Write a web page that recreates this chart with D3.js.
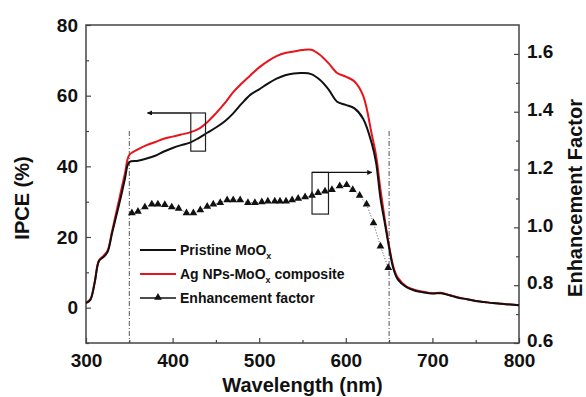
<!DOCTYPE html>
<html>
<head>
<meta charset="utf-8">
<script src="https://cdn.jsdelivr.net/npm/d3@7"></script>
<style>
  body { margin: 0; background: #fff; }
  svg { font-family: Arial, "Liberation Sans", sans-serif; font-weight: bold; }
</style>
</head>
<body>
<svg></svg>
<script>
// IPCE curves (wavelength in nm, IPCE in %)
const wavelength = [300,305,310,315,320,325,330,335,340,345,350,360,370,380,390,400,410,420,430,440,450,460,470,480,490,500,510,520,530,540,550,560,570,580,590,600,610,620,630,635,640,645,650,655,660,670,680,690,700,710,720,730,740,750,760,770,780,790,800];
const pristine = [1.3,2.2,7,13.2,14.3,15.8,21,26,31,36.5,41.2,41.6,42.2,43,44.2,45.2,46,46.7,48,49.5,51,52.7,55,57.8,60.3,61.8,63.4,64.8,65.8,66.3,66.4,66.1,64.5,61.8,58.3,57.4,56.4,53.5,46.5,41,31,24,17,11,8,5.8,4.8,4.3,4.0,4.1,3.5,2.8,2.4,1.9,1.6,1.3,1.1,0.9,0.7];
const composite = [1.5,2.4,7.3,13.4,14.6,16.2,21.5,27,32.5,38,43.2,44.8,46,46.9,47.8,48.4,49,49.6,50.6,52.5,55,57.8,61,63.5,65.8,68,69.8,71.2,72.1,72.5,72.9,73,71.6,69.2,66.4,65.4,64,60,49,43,33.5,25,17.5,11.5,8.5,6,5,4.5,4.1,4.2,3.5,2.9,2.4,1.9,1.6,1.3,1.1,0.9,0.7];

// enhancement factor (right axis)
const efWavelength = [353,360,368,376,383,391,399,407,416,424,432,440,447,455,463,470,478,487,495,503,510,518,524,531,538,545,553,561,568,576,584,593,601,608,616,624,632,640,649];
const efValue = [1.05,1.055,1.07,1.08,1.08,1.078,1.07,1.065,1.05,1.05,1.06,1.072,1.08,1.085,1.095,1.095,1.095,1.085,1.085,1.088,1.09,1.09,1.09,1.09,1.095,1.10,1.105,1.11,1.12,1.125,1.13,1.143,1.147,1.13,1.11,1.08,1.015,0.935,0.86];

const xTicks = [300,400,500,600,700,800];
const ipceTicks = [0,20,40,60,80];
const efTicks = [0.6,0.8,1.0,1.2,1.4,1.6];

let width = 586, height = 397;
let margin = { top: 25, bottom: 54, left: 86, right: 67 };

let svg = d3.select('svg')
    .attr('width', width)
    .attr('height', height);

let x = d3.scaleLinear()
    .domain([300, 800])
    .range([margin.left, width - margin.right]);

let y = d3.scaleLinear()
    .domain([-10, 80])
    .range([height - margin.bottom, margin.top]);

let y2 = d3.scaleLinear()
    .domain([0.6, 1.7])
    .range([height - margin.bottom, margin.top]);

let axisColor = '#444';

// minor ticks
svg.append('g')
    .attr('transform', `translate(0, ${height - margin.bottom})`)
    .call(d3.axisBottom(x).tickValues([350,450,550,650,750]).tickSize(-3).tickFormat(''));
svg.append('g')
    .attr('transform', `translate(${margin.left}, 0)`)
    .call(d3.axisLeft(y).tickValues([-10,10,30,50,70]).tickSize(-3).tickFormat(''));
svg.append('g')
    .attr('transform', `translate(${width - margin.right}, 0)`)
    .call(d3.axisRight(y2).tickValues([0.7,0.9,1.1,1.3,1.5]).tickSize(-3).tickFormat(''));

// major ticks
let xAxis = svg.append('g')
    .attr('transform', `translate(0, ${height - margin.bottom})`)
    .call(d3.axisBottom(x).tickValues(xTicks).tickSize(-5).tickPadding(11).tickFormat(d3.format('d')));

let yAxis = svg.append('g')
    .attr('transform', `translate(${margin.left}, 0)`)
    .call(d3.axisLeft(y).tickValues(ipceTicks).tickSize(-5).tickPadding(8));

let y2Axis = svg.append('g')
    .attr('transform', `translate(${width - margin.right}, 0)`)
    .call(d3.axisRight(y2).tickValues(efTicks).tickSize(-5).tickPadding(8).tickFormat(d3.format('.1f')));

svg.selectAll('.domain').remove();
svg.selectAll('.tick line').attr('stroke', axisColor).attr('stroke-width', 1.2);
svg.selectAll('.tick text')
    .attr('fill', '#111')
    .style('font-size', '19px')
    .style('font-family', 'Arial, "Liberation Sans", sans-serif')
    .style('font-weight', 'bold');
y2Axis.selectAll('.tick text').attr('dy', '0.2em');

// frame
svg.append('rect')
    .attr('x', margin.left)
    .attr('y', margin.top)
    .attr('width', width - margin.left - margin.right)
    .attr('height', height - margin.top - margin.bottom)
    .attr('fill', 'none')
    .attr('stroke', axisColor)
    .attr('stroke-width', 1.5);

// dash-dot guides at 350 and 650 nm
[350, 650].forEach(function(w) {
    svg.append('line')
        .attr('x1', x(w)).attr('x2', x(w))
        .attr('y1', y(50)).attr('y2', y(-10))
        .attr('stroke', '#555')
        .attr('stroke-width', 1)
        .attr('stroke-dasharray', '5,2,1,2');
});

// curves
let ipce = wavelength.map((w, i) => ({ w: w, p: pristine[i], c: composite[i] }));

let linePristine = d3.line().x(d => x(d.w)).y(d => y(d.p)).curve(d3.curveCatmullRom);
let lineComposite = d3.line().x(d => x(d.w)).y(d => y(d.c)).curve(d3.curveCatmullRom);

svg.append('path')
    .datum(ipce)
    .attr('d', lineComposite)
    .attr('fill', 'none')
    .attr('stroke', '#e8141c')
    .attr('stroke-width', 2);

svg.append('path')
    .datum(ipce)
    .attr('d', linePristine)
    .attr('fill', 'none')
    .attr('stroke', '#111')
    .attr('stroke-width', 2);

// enhancement factor
let ef = efWavelength.map((w, i) => ({ w: w, e: efValue[i] }));

svg.append('path')
    .datum(ef)
    .attr('d', d3.line().x(d => x(d.w)).y(d => y2(d.e)))
    .attr('fill', 'none')
    .attr('stroke', '#222')
    .attr('stroke-width', 0.8)
    .attr('stroke-dasharray', '1,2');

let tri = d3.symbol().type(d3.symbolTriangle).size(26);

svg.selectAll('.ef')
    .data(ef)
    .enter()
    .append('path')
    .attr('class', 'ef')
    .attr('d', tri)
    .attr('transform', d => `translate(${x(d.w)}, ${y2(d.e)})`)
    .attr('fill', '#111');

// arrows and boxes
svg.append('defs').append('marker')
    .attr('id', 'head')
    .attr('viewBox', '0 0 10 10')
    .attr('refX', 9).attr('refY', 5)
    .attr('markerWidth', 6).attr('markerHeight', 5)
    .attr('markerUnits', 'userSpaceOnUse')
    .attr('orient', 'auto')
    .append('path')
    .attr('d', 'M0,0 L10,5 L0,10 Z')
    .attr('fill', '#111');

function box(w0, w1, top, bottom) {
    svg.append('rect')
        .attr('x', x(w0))
        .attr('y', top)
        .attr('width', x(w1) - x(w0))
        .attr('height', bottom - top)
        .attr('fill', 'none')
        .attr('stroke', '#222')
        .attr('stroke-width', 1.2);
}

box(421, 438, y(55.1), y(44.3));
svg.append('line')
    .attr('x1', x(421)).attr('x2', x(371))
    .attr('y1', y(55.1)).attr('y2', y(55.1))
    .attr('stroke', '#111').attr('stroke-width', 1.3)
    .attr('marker-end', 'url(#head)');

box(561, 580, y2(1.19), y2(1.046));
svg.append('line')
    .attr('x1', x(561)).attr('x2', x(630))
    .attr('y1', y2(1.19)).attr('y2', y2(1.19))
    .attr('stroke', '#111').attr('stroke-width', 1.3)
    .attr('marker-end', 'url(#head)');

// legend
let legend = svg.append('g').attr('transform', 'translate(140, 250)');
let legendItems = [
    { name: 'Pristine MoO', sub: 'x', after: '', color: '#111' },
    { name: 'Ag NPs-MoO', sub: 'x', after: ' composite', color: '#e8141c' },
    { name: 'Enhancement factor', sub: '', after: '', color: '#111' }
];

legendItems.forEach(function(d, i) {
    let g = legend.append('g').attr('transform', `translate(0, ${i * 24})`);
    g.append('line')
        .attr('x1', 0).attr('x2', 36)
        .attr('stroke', d.color)
        .attr('stroke-width', i === 2 ? 1.5 : 2.2);
    if (i === 2) {
        g.append('path')
            .attr('d', tri)
            .attr('transform', 'translate(18, -0.5)')
            .attr('fill', '#111');
    }
    let t = g.append('text')
        .attr('x', 40)
        .attr('y', 5)
        .style('font-size', '14px')
        .attr('fill', '#111')
        .text(d.name);
    if (d.sub) {
        t.append('tspan')
            .attr('dy', 4)
            .style('font-size', '9px')
            .text(d.sub);
        t.append('tspan')
            .attr('dy', -4)
            .text(d.after);
    }
});

// axis titles
svg.append('text')
    .attr('x', x(550))
    .attr('y', 392)
    .attr('text-anchor', 'middle')
    .style('font-size', '20px')
    .attr('fill', '#111')
    .text('Wavelength (nm)');

svg.append('text')
    .attr('transform', 'translate(29, 198) rotate(-90)')
    .attr('text-anchor', 'middle')
    .style('font-size', '20px')
    .attr('fill', '#111')
    .text('IPCE (%)');

svg.append('text')
    .attr('transform', 'translate(582, 198) rotate(-90)')
    .attr('text-anchor', 'middle')
    .style('font-size', '20px')
    .attr('fill', '#111')
    .text('Enhancement Factor');
</script>
</body>
</html>
